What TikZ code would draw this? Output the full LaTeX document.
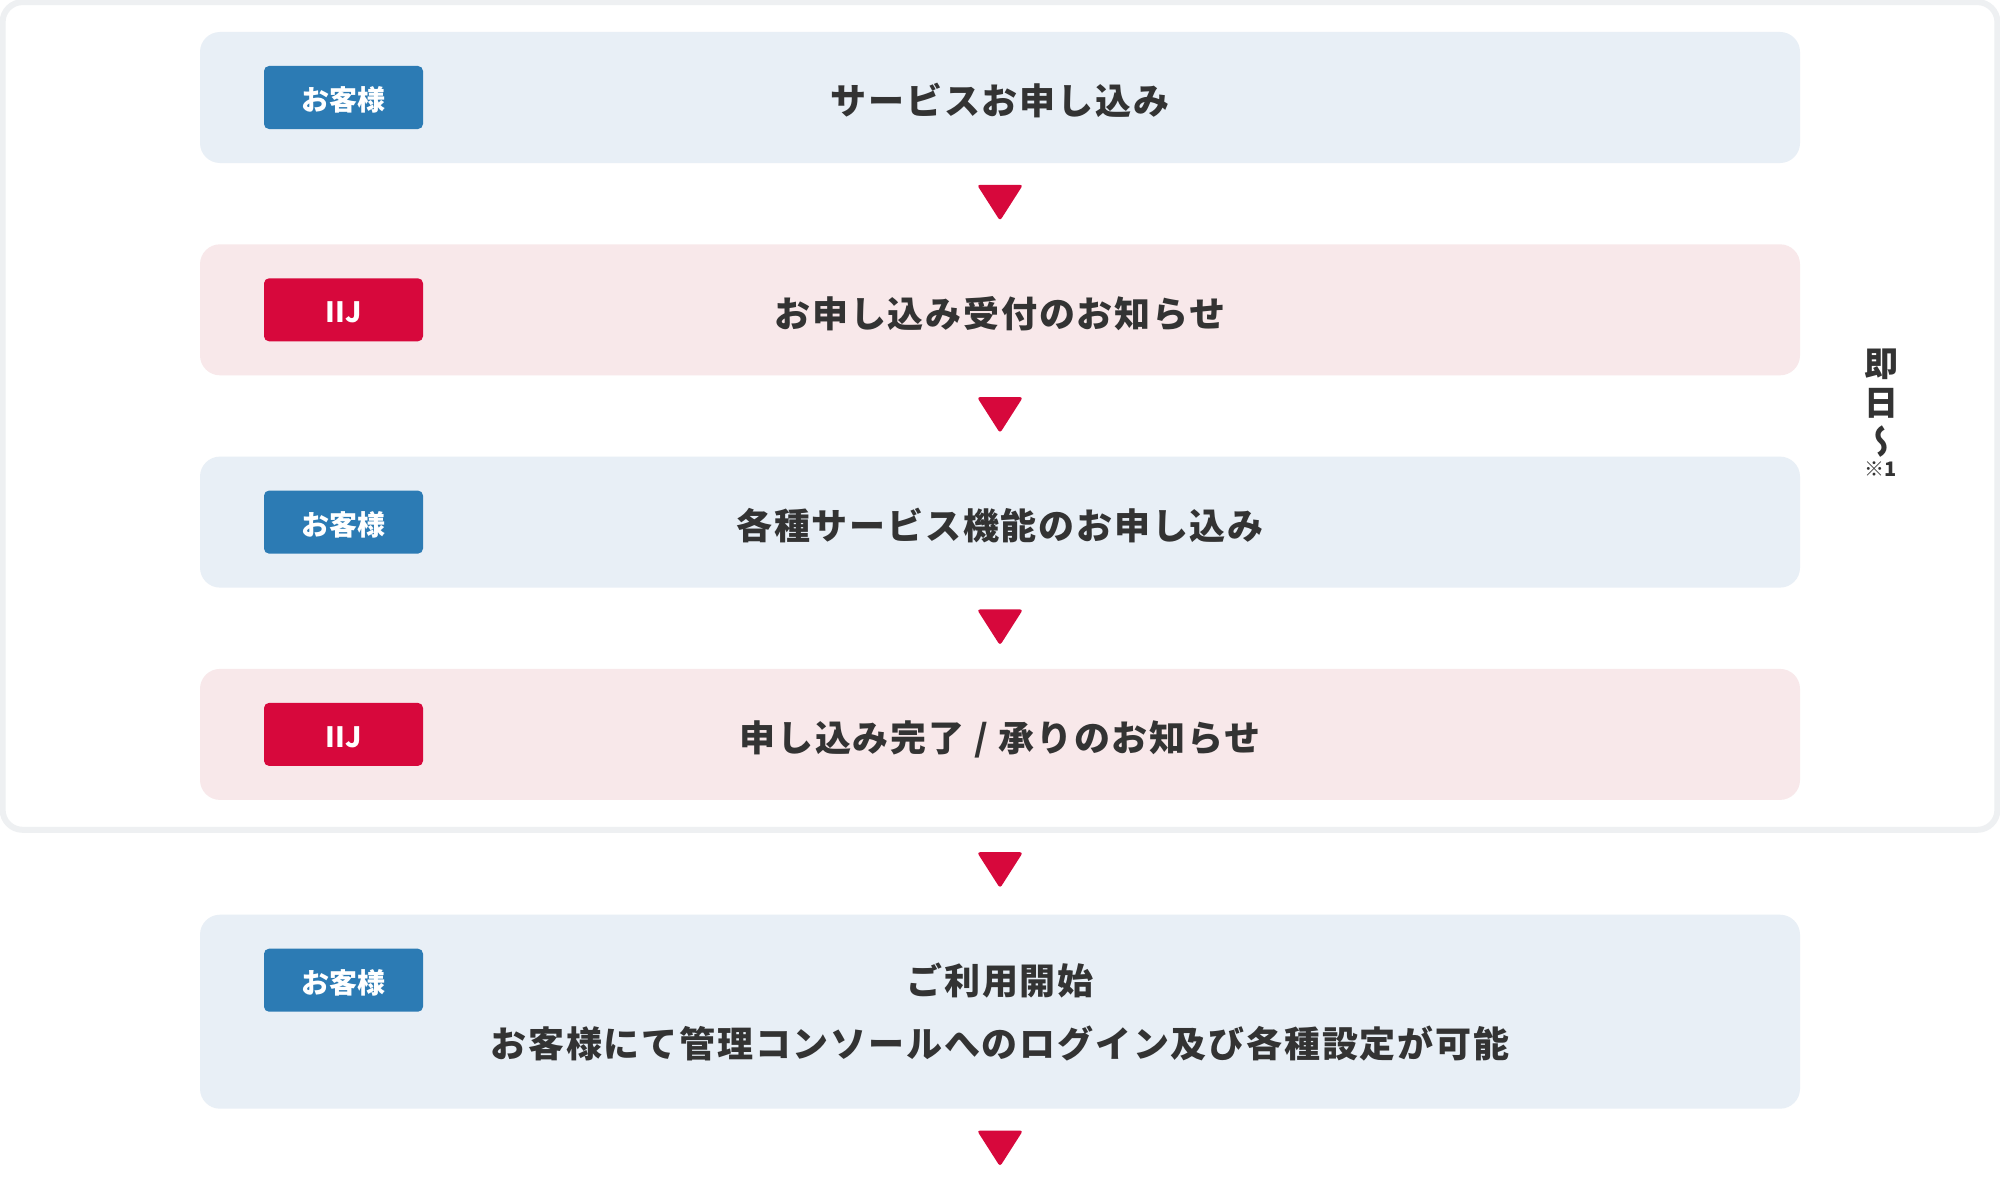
\documentclass[tikz,border=0pt]{standalone}
\usepackage{fontspec}
\newfontfamily\jp{Noto Sans CJK JP}
\newfontfamily\jpwide{Noto Sans CJK JP}[LetterSpace=5]
\newfontfamily\jpvert{Noto Sans CJK JP}[RawFeature=+vert]
\usetikzlibrary{positioning}
\usetikzlibrary{shapes,fit}
\definecolor{custbg}{HTML}{E8EFF6}
\definecolor{iijbg}{HTML}{F8E8EA}
\definecolor{custblue}{HTML}{2C7BB4}
\definecolor{iijred}{HTML}{D7083C}
\definecolor{txt}{HTML}{333333}
\definecolor{framegray}{HTML}{EEF0F2}

\begin{document}
\begin{tikzpicture}[x=0.5pt,y=-0.5pt,
  custbox/.style={rectangle,rounded corners=10pt,fill=custbg,minimum width=800pt,
    minimum height=65.5pt,inner sep=0pt,text=txt,align=center,
    font=\jpwide\bfseries\fontsize{18}{31.5}\selectfont},
  iijbox/.style={custbox,fill=iijbg},
  oneline/.style={text height=17.6pt,text depth=0.4pt},
  tag/.style={rectangle,rounded corners=2.5pt,minimum width=79.5pt,minimum height=31.5pt,
    inner sep=0pt,text=white,text height=13.4pt,text depth=0.3pt,
    font=\jp\bfseries\fontsize{14}{16}\selectfont},
  custtag/.style={tag,fill=custblue},
  iijtag/.style={tag,fill=iijred},
  arrowtri/.style={isosceles triangle,shape border rotate=-90,isosceles triangle stretches,
    minimum width=23pt,minimum height=18pt,inner sep=0pt,fill=iijred,rounded corners=1.5pt}]
\fill[white] (0,0) rectangle (2000,1188);
\useasboundingbox (0,0) rectangle (2000,1188);
% steps
\node[custbox,oneline] (s1) at (1000,97.5) {サービスお申し込み};
\begin{scope}[node distance=40.25pt]
\node[iijbox,oneline,below=of s1] (s2) {お申し込み受付のお知らせ};
\node[custbox,oneline,below=of s2] (s3) {各種サービス機能のお申し込み};
\node[iijbox,oneline,below=of s3] (s4) {申し込み完了 / 承りのお知らせ};
\end{scope}
\node[custbox,minimum height=97pt,below=57pt of s4] (s5) {ご利用開始\\お客様にて管理コンソールへのログイン及び各種設定が可能};
% who
\node[custtag,below right=17pt and 32pt of s1.north west] (t1) {お客様};
\node[iijtag,below right=17pt and 32pt of s2.north west] (t2) {IIJ};
\node[custtag,below right=17pt and 32pt of s3.north west] (t3) {お客様};
\node[iijtag,below right=17pt and 32pt of s4.north west] (t4) {IIJ};
\node[custtag,below right=17pt and 32pt of s5.north west] (t5) {お客様};
% same day frame
\node[draw=framegray,line width=3pt,rounded corners=10pt,fit=(s1)(s4),
  inner xsep=98.5pt,inner ysep=14.75pt] (frame) {};
\node[text=txt,align=center,inner sep=0pt,font=\jp\bfseries\fontsize{17}{19.5}\selectfont]
  (soku) at (1881,413) {即\\日\\{\jpvert 〜}\\[-8.4pt]{\fontsize{10}{10}\selectfont ※1}};
% arrows
\node[arrowtri,below=10.5pt of s1] (a1) {};
\node[arrowtri,below=10.5pt of s2] (a2) {};
\node[arrowtri,below=10.5pt of s3] (a3) {};
\node[arrowtri,below=9.5pt of frame] (a4) {};
\node[arrowtri,below=10.5pt of s5] (a5) {};
\end{tikzpicture}
\end{document}
